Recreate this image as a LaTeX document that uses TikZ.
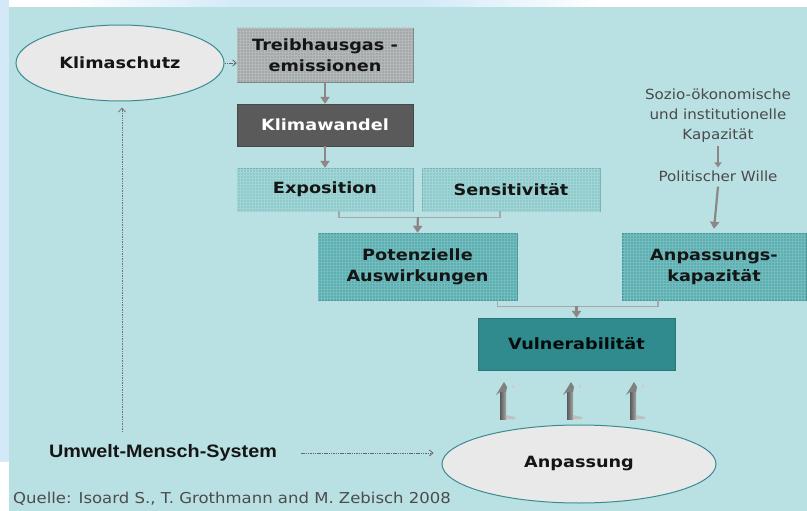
\documentclass[tikz,border=0pt]{standalone}
\usepackage{fontspec}
\usetikzlibrary{arrows.meta,shapes.geometric,patterns,calc}
\newfontfamily\boxfont[FakeStretch=1.14]{DejaVu Sans}
\newfontfamily\grayfont[FakeStretch=1.08]{DejaVu Sans}
\newfontfamily\quellefont[FakeStretch=1.1]{DejaVu Sans}
\newfontfamily\umfont[FakeStretch=1.1]{Liberation Sans}
\definecolor{panel}{HTML}{B9E0E2}
\definecolor{edgeblue}{HTML}{D3E9F8}
\definecolor{ellfill}{HTML}{E9E9E9}
\definecolor{ellline}{HTML}{3A8C90}
\definecolor{treibfill}{HTML}{A3A8A8}
\definecolor{wandelfill}{HTML}{5A5A5A}
\definecolor{lightteal}{HTML}{8DCBCC}
\definecolor{midteal}{HTML}{5BAFB1}
\definecolor{darkteal}{HTML}{2F8B8E}
\definecolor{arrowgray}{HTML}{8E8585}
\definecolor{linegray}{HTML}{A2A9A9}
\definecolor{txtdark}{HTML}{151515}
\definecolor{txtgray}{HTML}{4A4A4A}
\tikzset{
  box/.style={rectangle, inner sep=0pt, align=center,
    font=\boxfont\bfseries\fontsize{15.5}{21}\selectfont, text=txtdark},
  gridded/.style={postaction={pattern=grid, pattern color=#1}},
  ell/.style={ellipse, draw=ellline, line width=1pt, fill=ellfill, inner sep=0pt,
    font=\boxfont\bfseries\fontsize{15.5}{21}\selectfont, text=txtdark},
  flow/.style={draw=arrowgray, line width=2.2pt, -{Triangle[width=9pt,length=7pt]}},
  joinline/.style={draw=linegray, line width=1.2pt},
  smallflow/.style={draw=arrowgray, line width=1.8pt, -{Triangle[width=7pt,length=5pt]}},
  dasharrow/.style={draw=black!60, dash pattern=on 1.5pt off 0.8pt, line width=0.8pt,
    -{Straight Barb[length=3.5pt,width=6pt]}},
  graytext/.style={font=\grayfont\fontsize{14}{20}\selectfont, text=txtgray, align=center, inner sep=0pt},
}
\begin{document}
\begin{tikzpicture}[x=1pt,y=-1pt]
\useasboundingbox (0,0) rectangle (807,511);
% background
\fill[white] (0,0) rectangle (807,511);
\fill[edgeblue] (0,0) rectangle (9,462);
\fill[left color=white, right color=edgeblue] (70,0) rectangle (240,7);
\fill[edgeblue] (240,0) rectangle (420,7);
\fill[left color=edgeblue, right color=white] (420,0) rectangle (600,7);
\fill[panel] (9,7) rectangle (807,511);

% nodes
\node[ell, minimum width=208pt, minimum height=76pt] (klima) at (120,63) {Klimaschutz};
\node[box, minimum width=176pt, minimum height=54pt, fill=treibfill, draw=treibfill!80!black,
      gridded=white!18!treibfill] (treib) at (325,55) {Treibhausgas -\\emissionen};
\node[box, minimum width=176pt, minimum height=42pt, fill=wandelfill, draw=wandelfill!80!black,
      text=white] (wandel) at (325,125) {Klimawandel};
\node[box, minimum width=176pt, minimum height=43pt, fill=lightteal, draw=lightteal!85!black,
      gridded=white!18!lightteal] (expo) at (325,189.5) {Exposition};
\node[box, minimum width=178pt, minimum height=43pt, fill=lightteal, draw=lightteal!85!black,
      gridded=white!18!lightteal] (sens) at (511,189.5) {Sensitivität};
\node[box, minimum width=199pt, minimum height=67pt, fill=midteal, draw=midteal!85!black,
      gridded=white!15!midteal] (pot) at (417.5,266.5) {Potenzielle\\Auswirkungen};
\node[box, minimum width=184pt, minimum height=67pt, fill=midteal, draw=midteal!85!black,
      gridded=white!15!midteal] (kap) at (714,266.5) {Anpassungs-\\kapazität};
\node[box, minimum width=197pt, minimum height=52pt, fill=darkteal, draw=darkteal!85!black,
      text=black!92!darkteal] (vuln) at (576.5,344) {Vulnerabilität};
\node[ell, minimum width=274pt, minimum height=78pt] (anp) at (579,464) {Anpassung};

\node[graytext] (sozio) at (718,116) {Sozio-ökonomische\\und institutionelle\\Kapazität};
\node[graytext] (wille) at (718,176) {Politischer Wille};
\node[font=\umfont\bfseries\fontsize{18}{20}\selectfont, text=txtdark, inner sep=0pt] (umwelt) at (163,453) {Umwelt-Mensch-System};
\node[anchor=west, font=\quellefont\fontsize{15}{16}\selectfont, text=black!70, inner sep=0pt] (quelle) at (13,499) {Quelle: Isoard S., T. Grothmann and M. Zebisch 2008};

% connectors
\draw[dasharrow] (klima.east) -- (treib.west |- klima.east);
\draw[flow] (treib.south) -- (wandel.north);
\draw[flow] (wandel.south) -- (expo.north);
\coordinate (j1) at ($(expo.south)+(14,6)$);
\coordinate (j2) at ($(sens.south)+(-11,6)$);
\draw[joinline] ($(expo.south)+(14,0)$) -- (j1) -- (j2) -- ($(sens.south)+(-11,0)$);
\draw[flow] ($(j1)!0.49!(j2)$) -- (pot.north);
\coordinate (k1) at ($(pot.south)+(80,6)$);
\coordinate (k2) at ($(kap.south)+(-56,6)$);
\draw[joinline] ($(pot.south)+(80,0)$) -- (k1) -- (k2) -- ($(kap.south)+(-56,0)$);
\draw[flow] (vuln.north |- k1) -- (vuln.north);
\draw[smallflow] (sozio.south) ++(0,3) -- ($(wille.north)+(0,-3)$);
\draw[flow] ($(wille.south)+(0,5)$) -- ($(kap.north)+(0,-4)$);
\draw[dasharrow] ($(umwelt.east)+(24,0)$) -- ($(anp.west)+(-8,-11)$);
\coordinate (up0) at (122,432);
\draw[draw=black!55, dash pattern=on 1pt off 0.7pt, line width=0.8pt,
      -{Straight Barb[length=4pt,width=7pt]}] (up0) -- ($(klima.south)+(2,6)$);

% 3D up arrows
\foreach \x in {503,570,633}{
  \fill[left color=black!65, right color=black!35] (\x-3,419) rectangle (\x+3,390);
  \fill[black!50] (\x-7,395) -- (\x+1,382) -- (\x+4,387) -- (\x+3,392) -- (\x-3,392) -- cycle;
  \fill[black!25] (\x+3,415) -- (\x+12,417) -- (\x+12,419) -- (\x+3,419) -- cycle;
  \fill[black!20] (\x+9,385) rectangle (\x+11,388);
}
\end{tikzpicture}
\end{document}
